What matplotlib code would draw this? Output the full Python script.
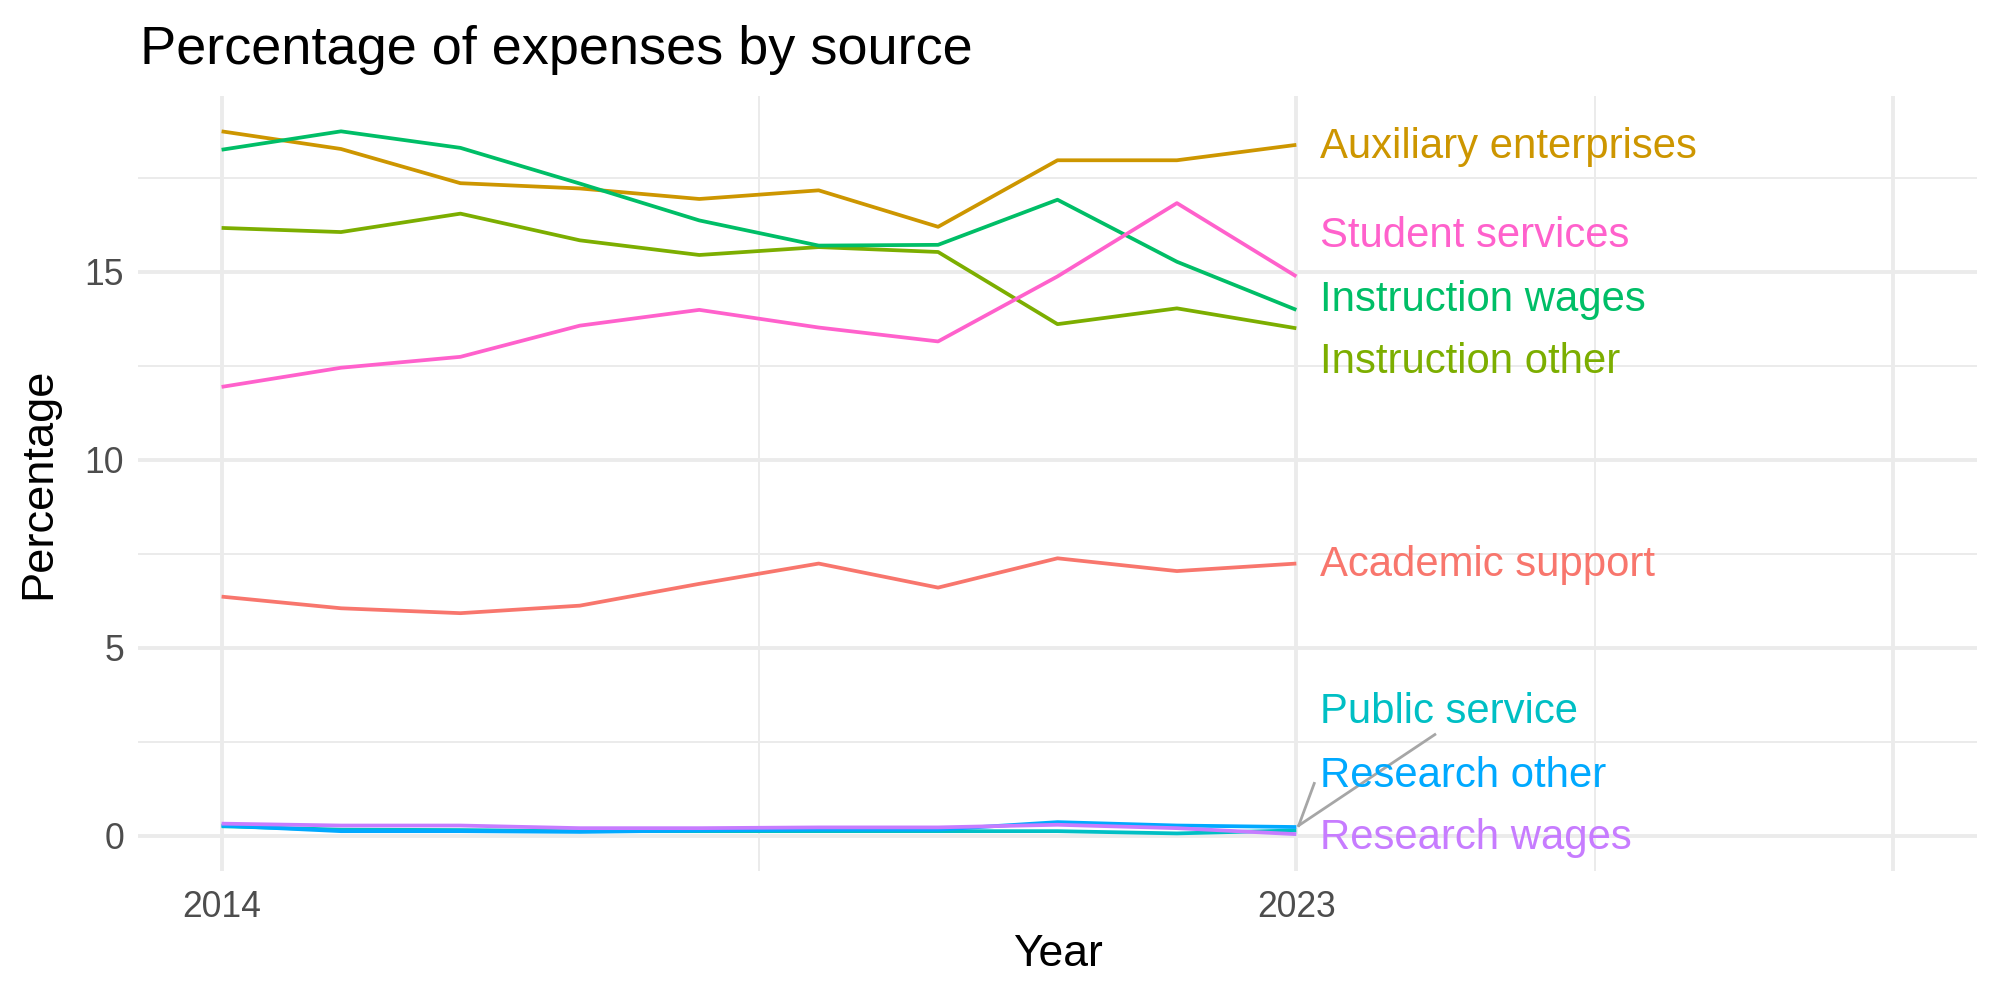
import numpy as np
import matplotlib
matplotlib.use("Agg")
import matplotlib.pyplot as plt

plt.rcParams['font.family'] = ['Liberation Sans', 'DejaVu Sans']

# data
years = list(range(2014, 2024))
academic_support = [6.36, 6.05, 5.92, 6.12, 6.70, 7.24, 6.60, 7.38, 7.04, 7.24]
auxiliary = [18.74, 18.27, 17.36, 17.22, 16.94, 17.17, 16.20, 17.97, 17.97, 18.38]
instruction_other = [16.17, 16.06, 16.55, 15.84, 15.45, 15.66, 15.53, 13.61, 14.03, 13.50]
instruction_wages = [18.25, 18.74, 18.30, 17.35, 16.37, 15.70, 15.72, 16.92, 15.27, 13.99]
public_service = [0.25, 0.16, 0.15, 0.12, 0.12, 0.12, 0.12, 0.12, 0.06, 0.14]
research_other = [0.27, 0.12, 0.12, 0.10, 0.14, 0.16, 0.16, 0.36, 0.27, 0.23]
research_wages = [0.32, 0.27, 0.27, 0.20, 0.20, 0.22, 0.22, 0.29, 0.20, 0.04]
student_services = [11.94, 12.45, 12.74, 13.57, 13.99, 13.52, 13.15, 14.88, 16.83, 14.88]

names = ["Academic support", "Auxiliary enterprises", "Instruction other",
         "Instruction wages", "Public service", "Research other",
         "Research wages", "Student services"]
series = [academic_support, auxiliary, instruction_other, instruction_wages,
          public_service, research_other, research_wages, student_services]
colors = ["#F8766D", "#CD9600", "#7CAE00", "#00BE67",
          "#00BFC4", "#00A9FF", "#C77CFF", "#FF61CC"]

# repelled label positions (y in data units)
label_y = {"Auxiliary enterprises": 18.33, "Student services": 15.95,
           "Instruction wages": 14.25, "Instruction other": 12.59,
           "Academic support": 7.21, "Public service": 3.28,
           "Research other": 1.6, "Research wages": -0.07}

fig = plt.figure(figsize=(10, 5), dpi=200)
ax = fig.add_axes([0.069, 0.129, 0.9195, 0.775])

for name, vals, col in zip(names, series, colors):
    ax.plot(years, vals, color=col, lw=1.35, solid_capstyle='butt', zorder=3)

# segments for the crowded labels at the bottom
ax.plot([2024.16, 2023.02], [2.69, research_other[-1] + 0.04], color="#A6A6A6", lw=1.0, zorder=4)
ax.plot([2023.15, 2023.02], [1.39, research_other[-1] + 0.04], color="#A6A6A6", lw=1.0, zorder=4)

for name, col in zip(names, colors):
    ax.text(2023.2, label_y[name], name, color=col, fontsize=15.1,
            ha='left', va='center', zorder=5)

ax.set_xlim(2013.3, 2028.7)
ax.set_ylim(-0.94, 19.68)
ax.set_xticks([2014, 2023, 2028])
ax.set_xticklabels(["2014", "2023", ""])
ax.set_xticks([2018.5, 2025.5], minor=True)
ax.set_yticks([0, 5, 10, 15])
ax.set_yticks([2.5, 7.5, 12.5, 17.5], minor=True)

ax.grid(which='major', color="#EBEBEB", lw=1.4)
ax.grid(which='minor', color="#EBEBEB", lw=0.7)
ax.set_axisbelow(True)
for s in ax.spines.values():
    s.set_visible(False)
ax.tick_params(which='both', length=0, labelsize=12.8, labelcolor="#4D4D4D")
ax.tick_params(axis='x', pad=7)
ax.tick_params(axis='y', pad=5)

ax.set_xlabel("Year", fontsize=16, labelpad=3)
ax.set_ylabel("Percentage", fontsize=16.3, labelpad=9)
fig.text(0.07, 0.95, "Percentage of expenses by source", fontsize=19.5,
         ha='left', va='center')

fig.savefig("out.png", dpi=200, facecolor='white')
